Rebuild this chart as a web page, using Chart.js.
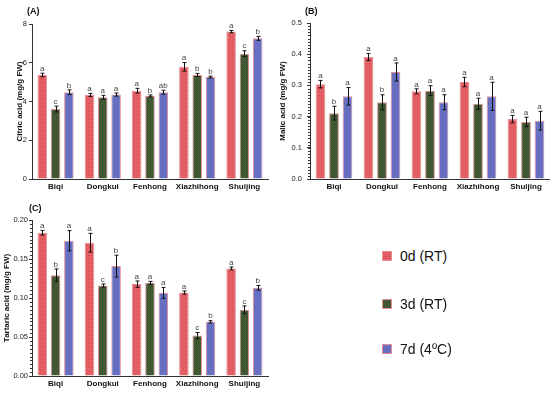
<!DOCTYPE html>
<html>
<head>
<meta charset="utf-8">
<script src="https://cdn.jsdelivr.net/npm/chart.js@4.4.1/dist/chart.umd.min.js"></script>
<style>
  body { margin: 0; width: 550px; height: 394px; overflow: hidden; background: #fff; font-family: "Liberation Sans", Arial, sans-serif; }
  .box { position: absolute; }
  .tag { position: absolute; font-weight: bold; font-size: 9px; color: #111; }
  .leg { position: absolute; left: 382px; font-size: 14px; color: #111; display: flex; align-items: center; }
  .leg canvas { width: 10px; height: 10px; margin-right: 8px; }
</style>
</head>
<body>
<div class="box" style="left:0;top:0;width:270px;height:192px"><canvas id="chartA"></canvas></div>
<div class="box" style="left:275px;top:0;width:275px;height:192px"><canvas id="chartB"></canvas></div>
<div class="box" style="left:0;top:192px;width:270px;height:202px"><canvas id="chartC"></canvas></div>
<div class="tag" style="left:27px;top:6px">(A)</div>
<div class="tag" style="left:305px;top:6px">(B)</div>
<div class="tag" style="left:29px;top:203px">(C)</div>
<div class="leg" style="top:248px"><canvas id="sw0" width="10" height="10"></canvas><span id="lg0"></span></div>
<div class="leg" style="top:296px"><canvas id="sw1" width="10" height="10"></canvas><span id="lg1"></span></div>
<div class="leg" style="top:341px"><canvas id="sw2" width="10" height="10"></canvas><span id="lg2"></span></div>
<script>
const cultivars = ['Biqi', 'Dongkui', 'Fenhong', 'Xiazhihong', 'Shuijing'];
const treatments = ['0d (RT)', '3d (RT)', '7d (4ºC)'];

// citric acid (mg/g FW)
const citric0 = [5.37, 4.34, 4.56, 5.79, 7.61];
const citric3 = [3.61, 4.22, 4.29, 5.37, 6.47];
const citric7 = [4.48, 4.36, 4.48, 5.26, 7.26];
const citric0Err = [0.09, 0.08, 0.12, 0.22, 0.06];
const citric3Err = [0.15, 0.1, 0.05, 0.08, 0.15];
const citric7Err = [0.12, 0.08, 0.1, 0.05, 0.1];
const citric0Sig = ['a', 'a', 'a', 'a', 'a'];
const citric3Sig = ['c', 'a', 'b', 'b', 'c'];
const citric7Sig = ['b', 'a', 'ab', 'b', 'b'];

// malic acid (mg/g FW)
const malic0 = [0.304, 0.391, 0.281, 0.311, 0.192];
const malic3 = [0.211, 0.246, 0.283, 0.241, 0.183];
const malic7 = [0.265, 0.343, 0.246, 0.265, 0.187];
const malic0Err = [0.012, 0.011, 0.008, 0.015, 0.012];
const malic3Err = [0.022, 0.024, 0.016, 0.018, 0.015];
const malic7Err = [0.028, 0.029, 0.024, 0.045, 0.03];
const malic0Sig = ['a', 'a', 'a', 'a', 'a'];
const malic3Sig = ['b', 'b', 'a', 'a', 'a'];
const malic7Sig = ['a', 'a', 'a', 'a', 'a'];

// tartaric acid (mg/g FW)
const tartaric0 = [0.1837, 0.1709, 0.1178, 0.107, 0.1379];
const tartaric3 = [0.1293, 0.116, 0.1195, 0.0518, 0.0848];
const tartaric7 = [0.1734, 0.1409, 0.1066, 0.0694, 0.1131];
const tartaric0Err = [0.003, 0.012, 0.004, 0.002, 0.0018];
const tartaric3Err = [0.008, 0.002, 0.0018, 0.004, 0.005];
const tartaric7Err = [0.013, 0.014, 0.007, 0.0015, 0.003];
const tartaric0Sig = ['a', 'a', 'a', 'a', 'a'];
const tartaric3Sig = ['b', 'c', 'a', 'c', 'c'];
const tartaric7Sig = ['a', 'b', 'a', 'b', 'b'];

// fill patterns like the GraphPad ones, kept low-contrast
function makePattern(kind) {
    const c = document.createElement('canvas');
    const g = c.getContext('2d');
    if (kind === 0) {
        c.width = 6; c.height = 4;
        g.fillStyle = '#df5257'; g.fillRect(0, 0, 6, 4);
        g.fillStyle = '#e4666b';
        g.fillRect(0, 0, 6, 1);
        g.fillRect(0, 2, 6, 1);
        g.fillRect(0, 0, 1, 2);
        g.fillRect(3, 2, 1, 2);
    } else if (kind === 1) {
        c.width = 2; c.height = 2;
        g.fillStyle = '#4a4a2a'; g.fillRect(0, 0, 2, 2);
        g.fillStyle = '#36673a';
        g.fillRect(0, 0, 1, 1);
        g.fillRect(1, 1, 1, 1);
    } else {
        c.width = 4; c.height = 4;
        g.fillStyle = '#636ec2'; g.fillRect(0, 0, 4, 4);
        g.fillStyle = '#7074c0';
        for (let i = 0; i < 4; i++) g.fillRect(i, (i + 1) % 4, 1, 1);
    }
    return g.createPattern(c, 'repeat');
}

const fills = [makePattern(0), makePattern(1), makePattern(2)];
const edge = '#e58f98';

// error bars + significance letters
const errorBarPlugin = {
    id: 'errorBars',
    afterDatasetsDraw(chart) {
        const ctx = chart.ctx;
        const y = chart.scales.y;
        ctx.save();
        chart.data.datasets.forEach((ds, di) => {
            const meta = chart.getDatasetMeta(di);
            meta.data.forEach((bar, i) => {
                const v = ds.data[i], e = ds.errors[i];
                const yt = y.getPixelForValue(v + e);
                const yb = y.getPixelForValue(v - e);
                const x = Math.round(bar.x) + 0.5;
                ctx.strokeStyle = '#111';
                ctx.lineWidth = 1;
                ctx.beginPath();
                ctx.moveTo(x, yt); ctx.lineTo(x, yb);
                ctx.moveTo(x - 2, yt); ctx.lineTo(x + 2, yt);
                ctx.moveTo(x - 2, yb); ctx.lineTo(x + 2, yb);
                ctx.stroke();
                ctx.fillStyle = '#444';
                ctx.font = '8px "Liberation Sans", Arial, sans-serif';
                ctx.textAlign = 'center';
                ctx.textBaseline = 'bottom';
                ctx.fillText(ds.sig[i], bar.x, yt - 0.5);
            });
        });
        ctx.restore();
    }
};

// small minor ticks on the y axis
const minorTickPlugin = {
    id: 'minorTicks',
    afterDraw(chart, args, opts) {
        if (!opts.step) return;
        const y = chart.scales.y;
        const ctx = chart.ctx;
        ctx.save();
        ctx.strokeStyle = '#333';
        ctx.lineWidth = 1;
        ctx.beginPath();
        const n = Math.round((y.max - y.min) / opts.step);
        for (let k = 0; k <= n; k++) {
            const py = Math.round(y.getPixelForValue(y.min + k * opts.step)) + 0.5;
            ctx.moveTo(chart.chartArea.left - 2, py);
            ctx.lineTo(chart.chartArea.left, py);
        }
        ctx.stroke();
        ctx.restore();
    }
};

function buildChart(id, vals, errs, sigs, yOpts) {
    const datasets = treatments.map((t, k) => ({
        label: t,
        data: vals[k],
        errors: errs[k],
        sig: sigs[k],
        backgroundColor: fills[k],
        borderColor: edge,
        borderWidth: 1,
        categoryPercentage: 0.845,
        barPercentage: 0.72
    }));
    return new Chart(document.getElementById(id), {
        type: 'bar',
        data: { labels: cultivars, datasets },
        plugins: [errorBarPlugin, minorTickPlugin],
        options: {
            responsive: true,
            maintainAspectRatio: false,
            animation: false,
            layout: { padding: { top: yOpts.padTop, right: yOpts.padRight, left: 0, bottom: 0 } },
            plugins: {
                legend: { display: false },
                tooltip: { enabled: false },
                minorTicks: { step: yOpts.minor }
            },
            scales: {
                x: {
                    grid: { display: false, drawTicks: false },
                    border: { display: true, color: '#333', width: 1 },
                    ticks: {
                        padding: 3, color: '#111', autoSkip: false, maxRotation: 0, minRotation: 0,
                        font: { family: '"Liberation Sans", Arial', size: 8, weight: 'bold' }
                    },
                    afterFit: s => { s.height = yOpts.xH; }
                },
                y: {
                    min: 0,
                    max: yOpts.max,
                    ticks: {
                        stepSize: yOpts.step,
                        padding: yOpts.tickPad,
                        color: '#222',
                        font: { family: '"Liberation Sans", Arial', size: 7.5 },
                        callback: v => v.toFixed(yOpts.dec)
                    },
                    grid: { display: true, drawOnChartArea: false, drawTicks: true, tickLength: 3, color: '#333' },
                    border: { display: true, color: '#333', width: 1 },
                    title: {
                        display: true,
                        text: yOpts.title,
                        color: '#111',
                        padding: { top: yOpts.titlePad, bottom: 0 },
                        font: { family: '"Liberation Sans", Arial', size: 8, weight: 'bold' }
                    },
                    afterFit: s => { s.width = yOpts.yW; }
                }
            }
        }
    });
}

buildChart('chartA',
    [citric0, citric3, citric7], [citric0Err, citric3Err, citric7Err], [citric0Sig, citric3Sig, citric7Sig],
    { title: 'Citric acid (mg/g FW)', max: 8, step: 2, dec: 0, minor: 0, padTop: 24, padRight: 2, xH: 13, yW: 32, tickPad: 2, titlePad: 15 });

buildChart('chartB',
    [malic0, malic3, malic7], [malic0Err, malic3Err, malic7Err], [malic0Sig, malic3Sig, malic7Sig],
    { title: 'Malic acid (mg/g FW)', max: 0.5, step: 0.1, dec: 1, minor: 0.01, padTop: 23, padRight: 0, xH: 13, yW: 35, tickPad: 5, titlePad: 3 });

buildChart('chartC',
    [tartaric0, tartaric3, tartaric7], [tartaric0Err, tartaric3Err, tartaric7Err], [tartaric0Sig, tartaric3Sig, tartaric7Sig],
    { title: 'Tartaric acid (mg/g FW)', max: 0.2, step: 0.05, dec: 2, minor: 0.005, padTop: 28, padRight: 2, xH: 18, yW: 32, tickPad: 1, titlePad: 2 });

// legend swatches
treatments.forEach((t, k) => {
    document.getElementById('lg' + k).textContent = t;
    const g = document.getElementById('sw' + k).getContext('2d');
    g.fillStyle = fills[k];
    g.fillRect(0, 0, 10, 10);
    g.strokeStyle = edge;
    g.strokeRect(0.5, 0.5, 9, 9);
});
</script>
</body>
</html>
